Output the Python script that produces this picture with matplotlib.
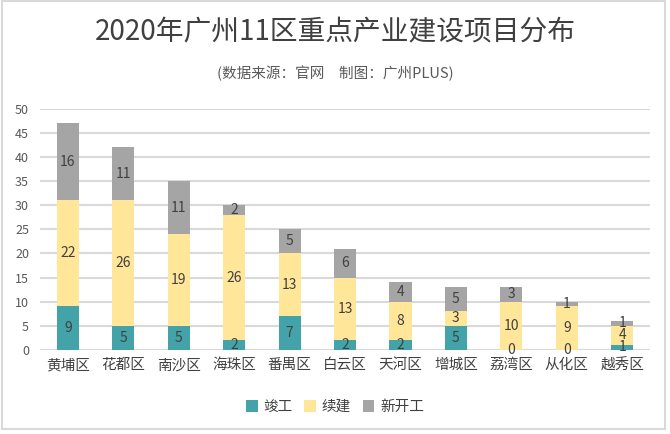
import matplotlib
matplotlib.use("Agg")
import matplotlib.pyplot as plt
import numpy as np
from matplotlib.patches import Rectangle

plt.rcParams['font.family'] = ['Noto Sans CJK SC', 'DejaVu Sans']

districts = ["黄埔区", "花都区", "南沙区", "海珠区", "番禺区", "白云区", "天河区", "增城区", "荔湾区", "从化区", "越秀区"]
completed = [9, 5, 5, 2, 7, 2, 2, 5, 0, 0, 1]
continuing = [22, 26, 19, 26, 13, 13, 8, 3, 10, 9, 4]
new_start = [16, 11, 11, 2, 5, 6, 4, 5, 3, 1, 1]
series_names = ["竣工", "续建", "新开工"]
colors = ["#44A3A8", "#FFE699", "#A5A5A5"]
yticks = list(range(0, 51, 5))

fig = plt.figure(figsize=(6.7, 4.34), dpi=100)
ax = fig.add_axes([0.06, 0.194, 0.91, 0.555])

x = np.arange(len(districts))
w = 0.4
bottom = np.zeros(len(districts))
for vals, name, c in zip([completed, continuing, new_start], series_names, colors):
    vals = np.array(vals, dtype=float)
    ax.bar(x, vals, w, bottom=bottom, color=c, label=name, zorder=3)
    for xi, b, v in zip(x, bottom, vals):
        ax.text(xi, b + v / 2, f"{int(v)}", ha="center", va="center",
                fontsize=10, color="#404040", zorder=4)
    bottom += vals

ax.set_xlim(-0.5, len(districts) - 0.5)
ax.set_ylim(0, 50)
ax.set_yticks(yticks)
ax.set_xticks(x)
ax.set_xticklabels(districts, fontsize=10.5, color="#404040")
ax.tick_params(axis="y", labelsize=9, colors="#595959", length=0, pad=8)
ax.tick_params(axis="x", length=0, pad=6)
ax.yaxis.grid(True, color="#D9D9D9", linewidth=1.5, zorder=0)
for s in ax.spines.values():
    s.set_visible(False)
ax.axhline(0, color="#D9D9D9", linewidth=1.5, zorder=2)

fig.text(0.5, 0.925, "2020年广州11区重点产业建设项目分布", ha="center", va="center",
         fontsize=20, color="#404040")
fig.text(0.5, 0.83, "(数据来源：官网　制图：广州PLUS)", ha="center", va="center",
         fontsize=10.5, color="#595959")

leg = fig.legend(loc="center", bbox_to_anchor=(0.5, 0.062), ncol=3, frameon=False,
                 fontsize=10.5, handlelength=0.8, handleheight=0.8, handletextpad=0.4,
                 columnspacing=0.8)
for t in leg.get_texts():
    t.set_color("#404040")

fig.patches.append(Rectangle((0.003, 0.012), 0.99, 0.985, transform=fig.transFigure,
                             fill=False, edgecolor="#D9D9D9", linewidth=1.5))

fig.savefig("out.png", dpi=100)
